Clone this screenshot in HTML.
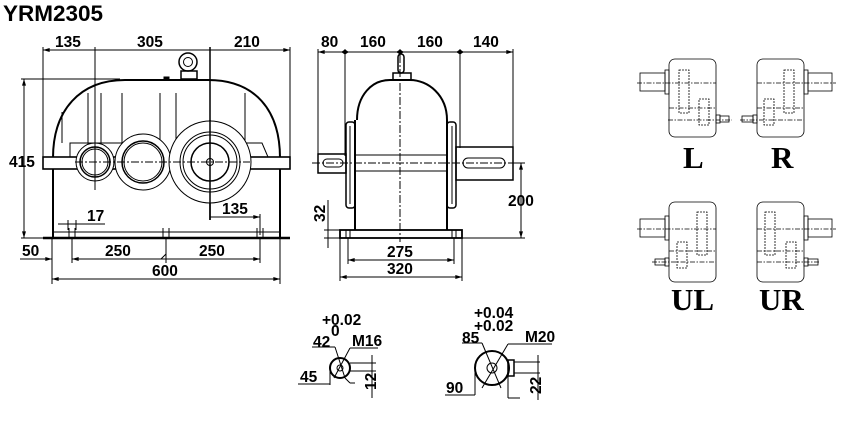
<!DOCTYPE html>
<html><head><meta charset="utf-8"><style>
html,body{margin:0;padding:0;background:#fff;}
svg{display:block}
.t{font-family:"Liberation Sans",Arial,sans-serif;font-weight:bold;font-size:15.5px;fill:#000}
.s{font-family:"Liberation Serif",serif;font-weight:bold;font-size:31px;fill:#000}
</style></head><body>
<svg width="852" height="422" viewBox="0 0 852 422" xmlns="http://www.w3.org/2000/svg">
<defs>
<marker id="a" viewBox="0 0 10 6" refX="10" refY="3" markerWidth="7" markerHeight="4" orient="auto-start-reverse"><path d="M0,0L10,3L0,6z" fill="#000"/></marker>
</defs>
<text x="3" y="21" style="font-family:'Liberation Sans',sans-serif;font-weight:bold;font-size:22.5px">YRM2305</text>

<!-- FRONT VIEW -->
<g fill="none" stroke="#000" stroke-width="1">
<line x1="43" y1="50" x2="290" y2="50" marker-start="url(#a)" marker-end="url(#a)"/>
<line x1="43" y1="47" x2="43" y2="160"/>
<line x1="95" y1="47" x2="95" y2="190"/>
<line x1="210" y1="47" x2="210" y2="220" stroke-width="1.5"/>
<line x1="290" y1="47" x2="290" y2="160"/>
<path d="M53,158 C53,110 80,80 125,80 L208,80 C255,80 280,110 280,158" stroke-width="2"/>
<rect x="43" y="157" width="247" height="12" stroke-width="1.6" fill="#fff"/>
<line x1="53" y1="169" x2="53" y2="238" stroke-width="2"/>
<line x1="280" y1="169" x2="280" y2="238" stroke-width="2"/>
<line x1="53" y1="232" x2="280" y2="232"/>
<line x1="43" y1="238" x2="290" y2="238" stroke-width="2.5"/>
<path d="M62,143 L62,112 M88,93 L88,145 M101,93 L101,145 M122,93 L122,145 M160,93 L160,140 M176,93 L176,140 M245,93 L245,145 M70,157 L70,143 L125,143 M235,143 L262,143 L268,157"/>
<circle cx="188" cy="62" r="9" stroke-width="1.5"/><circle cx="188" cy="62" r="4.5"/>
<rect x="181" y="71" width="16" height="8" stroke-width="1.5"/>
<rect x="164" y="77" width="5" height="3" fill="#000"/>
<circle cx="95" cy="162" r="19" fill="#fff"/><circle cx="95" cy="162" r="15" stroke-width="1.5"/><circle cx="95" cy="162" r="13"/>
<circle cx="143" cy="162" r="28" fill="#fff"/><circle cx="143" cy="162" r="21" stroke-width="1.5"/><circle cx="143" cy="162" r="19"/>
<circle cx="210" cy="162" r="41" fill="#fff"/><circle cx="210" cy="162" r="30"/><circle cx="210" cy="162" r="27"/><circle cx="210" cy="162" r="19" stroke-width="1.5"/><circle cx="210" cy="162" r="3.5"/>
<line x1="210" y1="120" x2="210" y2="220" stroke-width="1.5"/>
<line x1="95" y1="140" x2="95" y2="190"/>
<line x1="75" y1="162" x2="250" y2="162" stroke-dasharray="8,2,2,2"/>
<path d="M69,228v10M75,228v10M163,228v10M169,228v10M257,228v10M263,228v10"/>
<line x1="24" y1="79" x2="24" y2="238" marker-start="url(#a)" marker-end="url(#a)"/>
<line x1="21" y1="79" x2="120" y2="79"/>
<line x1="21" y1="238" x2="53" y2="238"/>
<line x1="58" y1="224" x2="105" y2="224"/>
<line x1="68" y1="220" x2="68" y2="230"/><line x1="76" y1="220" x2="76" y2="230"/>
<line x1="210" y1="217" x2="260" y2="217" marker-end="url(#a)"/>
<line x1="260" y1="214" x2="260" y2="235"/>
<line x1="20" y1="259" x2="52" y2="259" marker-end="url(#a)"/>
<line x1="72" y1="259" x2="260" y2="259" marker-start="url(#a)" marker-end="url(#a)"/>
<path d="M166,254 l-5,5 M166,259 l5,0"/>
<line x1="52" y1="238" x2="52" y2="284"/>
<line x1="72" y1="238" x2="72" y2="263"/>
<line x1="166" y1="238" x2="166" y2="263"/>
<line x1="260" y1="238" x2="260" y2="263"/>
<line x1="280" y1="238" x2="280" y2="284"/>
<line x1="52" y1="279" x2="280" y2="279" marker-start="url(#a)" marker-end="url(#a)"/>
</g>
<text class="t" x="55" y="47">135</text>
<text class="t" x="137" y="47">305</text>
<text class="t" x="234" y="47">210</text>
<text class="t" x="9" y="167">415</text>
<text class="t" x="87" y="221">17</text>
<text class="t" x="222" y="214">135</text>
<text class="t" x="22" y="256">50</text>
<text class="t" x="105" y="256">250</text>
<text class="t" x="199" y="256">250</text>
<text class="t" x="152" y="276">600</text>

<!-- SIDE VIEW -->
<g fill="none" stroke="#000" stroke-width="1">
<line x1="318" y1="52" x2="513" y2="52" marker-start="url(#a)" marker-end="url(#a)"/>
<path d="M345,49 V156 M400,49 V53 M460,49 V148 M513,49 V148 M318,49 V154"/>
<path d="M342,52 l3,-2 l0,4 z M348,52 l-3,-2 l0,4z M397,52 l3,-2 v4z M403,52 l-3,-2 v4z M457,52 l3,-2 v4z M463,52 l-3,-2 v4z" fill="#000"/>
<path d="M357,120 C357,95 372,80 390,80 L410,80 C428,80 447,95 447,120" stroke-width="2"/>
<rect x="393" y="73" width="18" height="7" stroke-width="1.5"/>
<rect x="398" y="54" width="6" height="19" rx="3" stroke-width="1.5"/>
<line x1="355" y1="120" x2="355" y2="230" stroke-width="2"/>
<line x1="447" y1="120" x2="447" y2="230" stroke-width="2"/>
<rect x="346" y="122" width="9" height="86" rx="3" stroke-width="1.5"/>
<rect x="447" y="122" width="9" height="86" rx="3" stroke-width="1.5"/>
<line x1="350" y1="126" x2="350" y2="204"/><line x1="452" y1="126" x2="452" y2="204"/>
<line x1="355" y1="155" x2="447" y2="155"/><line x1="355" y1="171" x2="447" y2="171"/>
<rect x="318" y="154" width="28" height="19" stroke-width="1.5"/>
<rect x="323" y="159" width="20" height="8" rx="4"/>
<rect x="456" y="147" width="57" height="33" stroke-width="1.5"/>
<rect x="463" y="158" width="42" height="10" rx="5"/>
<line x1="312" y1="163" x2="522" y2="163" stroke-dasharray="8,2,2,2"/>
<line x1="400" y1="55" x2="400" y2="242" stroke-dasharray="8,2,2,2"/>
<rect x="340" y="230" width="122" height="8" stroke-width="1.8"/>
<path d="M346,230v8M350,230v8M452,230v8M456,230v8"/>
<line x1="521" y1="163" x2="521" y2="238" marker-start="url(#a)" marker-end="url(#a)"/>
<line x1="462" y1="238" x2="525" y2="238"/>
<line x1="513" y1="163" x2="525" y2="163"/>
<line x1="328" y1="200" x2="328" y2="248"/>
<line x1="324" y1="230" x2="340" y2="230"/><line x1="324" y1="238" x2="340" y2="238"/>
<line x1="348" y1="260" x2="454" y2="260" marker-start="url(#a)" marker-end="url(#a)"/>
<line x1="348" y1="238" x2="348" y2="264"/><line x1="454" y1="238" x2="454" y2="264"/>
<line x1="340" y1="277" x2="462" y2="277" marker-start="url(#a)" marker-end="url(#a)"/>
<line x1="340" y1="238" x2="340" y2="281"/><line x1="462" y1="238" x2="462" y2="281"/>
</g>
<text class="t" x="321" y="47">80</text>
<text class="t" x="360" y="47">160</text>
<text class="t" x="417" y="47">160</text>
<text class="t" x="473" y="47">140</text>
<text class="t" x="508" y="206">200</text>
<text class="t" transform="translate(325,222) rotate(-90)">32</text>
<text class="t" x="387" y="257">275</text>
<text class="t" x="387" y="274">320</text>

<!-- SHAFT DETAILS -->
<g fill="none" stroke="#000" stroke-width="1">
<circle cx="340" cy="368" r="10" stroke-width="2"/><circle cx="340" cy="368" r="3"/>
<line x1="312" y1="347" x2="335" y2="347"/><line x1="335" y1="347" x2="345" y2="378"/>
<line x1="350" y1="348" x2="378" y2="348"/><line x1="350" y1="348" x2="334" y2="378"/>
<line x1="350" y1="363" x2="376" y2="363"/><line x1="350" y1="371" x2="376" y2="371"/>
<line x1="372" y1="355" x2="372" y2="398"/>
<line x1="330" y1="368" x2="330" y2="385"/><line x1="298" y1="384" x2="330" y2="384"/>
<line x1="345" y1="378" x2="350" y2="383"/><line x1="350" y1="383" x2="355" y2="383"/>
<circle cx="492" cy="368" r="17" stroke-width="2"/><circle cx="492" cy="368" r="5"/>
<line x1="462" y1="343" x2="482" y2="343"/><line x1="482" y1="343" x2="501" y2="388"/>
<line x1="508" y1="344" x2="552" y2="344"/><line x1="508" y1="344" x2="482" y2="388"/>
<rect x="508" y="360" width="6" height="16" stroke-width="1.5"/>
<line x1="514" y1="362" x2="540" y2="362"/><line x1="514" y1="373" x2="540" y2="373"/>
<line x1="538" y1="355" x2="538" y2="400"/>
<line x1="475" y1="368" x2="475" y2="395"/><line x1="445" y1="395" x2="475" y2="395"/>
<line x1="508" y1="376" x2="508" y2="398"/><line x1="508" y1="398" x2="520" y2="398"/>
</g>
<text class="t" x="322" y="325">+0.02</text>
<text class="t" x="331" y="336">0</text>
<text class="t" x="313" y="347">42</text>
<text class="t" x="352" y="346">M16</text>
<text class="t" x="300" y="382">45</text>
<text class="t" transform="translate(376,390) rotate(-90)">12</text>
<text class="t" x="474" y="318">+0.04</text>
<text class="t" x="474" y="331">+0.02</text>
<text class="t" x="462" y="343">85</text>
<text class="t" x="525" y="342">M20</text>
<text class="t" x="446" y="393">90</text>
<text class="t" transform="translate(541,394) rotate(-90)">22</text>

<!-- MOUNTING POSITIONS -->
<g fill="none" stroke="#000" stroke-width="0.8">
<rect x="669" y="59" width="47" height="78" rx="6"/>
<rect x="665" y="70" width="4" height="24"/><rect x="640" y="73" width="25" height="18"/>
<rect x="679" y="70" width="10" height="43" stroke-dasharray="2,1"/>
<rect x="699" y="99" width="10" height="26" stroke-dasharray="2,1"/>
<rect x="716" y="115" width="4" height="8"/><rect x="720" y="116" width="9" height="6"/>
<path d="M637,83H716M669,108H716M668,120H732" stroke-dasharray="5,1.5,1.5,1.5"/>
<rect x="757" y="59" width="47" height="78" rx="6"/>
<rect x="804" y="70" width="4" height="24"/><rect x="808" y="73" width="24" height="18"/>
<rect x="784" y="70" width="10" height="43" stroke-dasharray="2,1"/>
<rect x="764" y="99" width="10" height="26" stroke-dasharray="2,1"/>
<rect x="753" y="115" width="4" height="8"/><rect x="742" y="116" width="11" height="6"/>
<path d="M757,83H836M757,108H804M740,120H804" stroke-dasharray="5,1.5,1.5,1.5"/>
<rect x="669" y="202" width="47" height="80" rx="6"/>
<rect x="665" y="216" width="4" height="24"/><rect x="640" y="219" width="25" height="18"/>
<rect x="697" y="212" width="10" height="43" stroke-dasharray="2,1"/>
<rect x="677" y="242" width="10" height="26" stroke-dasharray="2,1"/>
<rect x="665" y="258" width="4" height="8"/><rect x="655" y="259" width="10" height="6"/>
<path d="M637,229H716M669,251H716M652,262H716" stroke-dasharray="5,1.5,1.5,1.5"/>
<rect x="757" y="202" width="47" height="80" rx="6"/>
<rect x="804" y="216" width="4" height="24"/><rect x="808" y="219" width="24" height="18"/>
<rect x="765" y="212" width="10" height="43" stroke-dasharray="2,1"/>
<rect x="786" y="242" width="10" height="26" stroke-dasharray="2,1"/>
<rect x="804" y="258" width="4" height="8"/><rect x="808" y="259" width="10" height="6"/>
<path d="M757,229H836M757,251H804M757,262H820" stroke-dasharray="5,1.5,1.5,1.5"/>
</g>
<text class="s" x="683" y="168">L</text>
<text class="s" x="771" y="168">R</text>
<text class="s" x="671" y="310">UL</text>
<text class="s" x="759" y="310">UR</text>
</svg>
</body></html>
